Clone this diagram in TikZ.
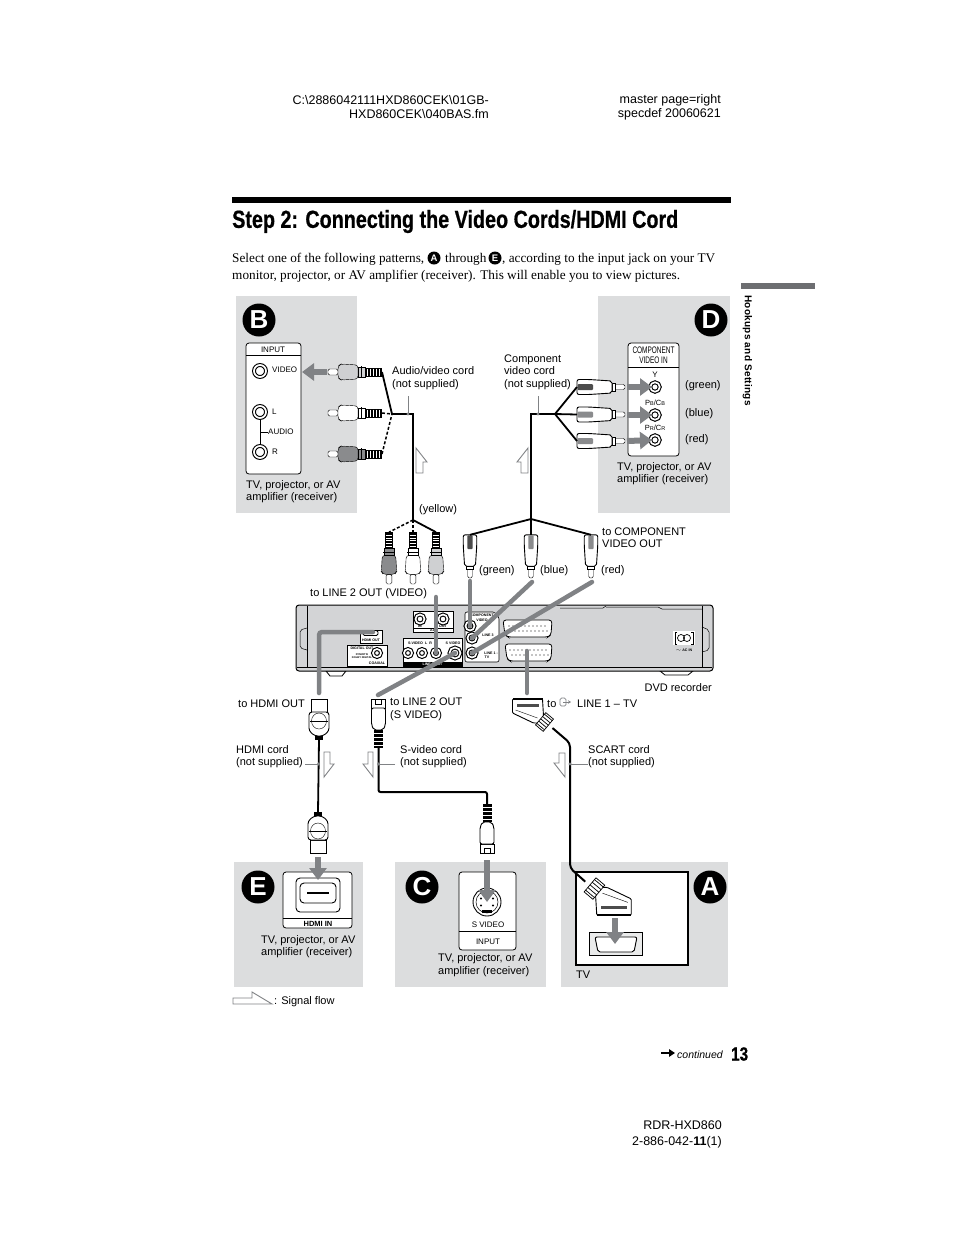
\documentclass[tikz,border=0pt]{standalone}
\usepackage{fontspec}
\setmainfont{Liberation Sans}
\newfontfamily\serifbody{Liberation Serif}
\newfontfamily\headfont[FakeStretch=0.8,FakeBold=0.7]{Liberation Sans Bold}
\usepackage{tikz}
\usetikzlibrary{
  arrows.meta,
  positioning,
  calc,
}
\definecolor{panelgray}{HTML}{DCDDDE}
\definecolor{flowgray}{HTML}{808285}
\definecolor{devgray}{HTML}{D3D4D6}
\definecolor{tabgray}{HTML}{6D6E71}
\definecolor{plugdark}{HTML}{8A8B8D}
\definecolor{pluglight}{HTML}{CFD0D2}
\tikzset{
  pics/rcaplug/.style={code={
    \draw[fill=white, rounded corners=1.5] (0,-3) -- (10,-3) -- (10,3) -- (0,3) -- cycle;
    \draw[fill=#1, rounded corners=3] (10,-6) -- (13,-8) -- (30,-7) -- (30,7) -- (13,8) -- (10,6) -- cycle;
    \draw[fill=#1] (30,-5) rectangle (37,5);
    \draw[line width=1] (33,-6) -- (33,6);
    \fill[black] (37,-4.5) rectangle (54,4.5);
    \foreach \hx in {39,42,...,51} {\draw[white, line width=.7] (\hx,-3.5) -- (\hx,3.5);}
    \coordinate (-tail) at (54,0);
  }},
  pics/compplug/.style={code={
    \draw[fill=white, rounded corners=1.5] (0,-2.5) -- (12,-2.5) -- (12,2.5) -- (0,2.5) -- cycle;
    \draw[fill=white] (10,-4) rectangle (13,4);
    \draw[fill=white, rounded corners=2, line width=.9] (13,-6) -- (36,-7.5) -- (48,-7.5) -- (48,7.5) -- (36,7.5) -- (13,6) -- cycle;
    \fill[#1, rounded corners=1] (32,-3) rectangle (47.5,3);
    \coordinate (-tail) at (48,0);
  }},
  pics/hdmiplug/.style={code={
    \draw[fill=white] (0,-8) rectangle (13,8);
    \draw[fill=white, rounded corners=3, line width=.9] (13,-10) -- (32,-10) -- (37,-4) -- (37,4) -- (32,10) -- (13,10) -- cycle;
    \draw[line width=.4] (22,0) ellipse (8 and 7.5);
    \draw[line width=.4] (22,-9) -- (22,9);
    \fill[black] (37,-4) rectangle (41,4);
    \coordinate (-tail) at (41,0);
  }},
  pics/svplug/.style={code={
    \draw[fill=white, line width=.9] (0,-7) rectangle (9,7);
    \draw[line width=.9] (0,-3) -- (5,-3) -- (5,3) -- (0,3);
    \draw[fill=white, line width=.9, rounded corners=2] (9,-7) -- (26,-7) -- (31,-4.5) -- (31,4.5) -- (26,7) -- (9,7) -- cycle;
    \fill[black] (31,-4.5) rectangle (49,4.5);
    \foreach \hx in {34,38,...,46} {\draw[white, line width=.8] (\hx,-4.5) -- (\hx,4.5);}
    \coordinate (-tail) at (49,0);
  }},
  pics/scartplug/.style={code={
    \draw[fill=white, line width=.9, rounded corners=1] (-15,0) -- (15,0) -- (16,17) -- (13,24) -- (6,24) -- (-15,14) -- cycle;
    \fill[black] (-15,-1) rectangle (15,1);
    \fill[black!70] (-11,5) rectangle (11,7.5);
    \draw[line width=.4] (-12,11) -- (10,19);
    \begin{scope}[shift={(17,23)}, rotate=50]
      \fill[white] (-8,-5) rectangle (8,5);
      \draw[line width=.7] (-8,-5) rectangle (8,5);
      \foreach \hy in {-6,-3,...,6} {\draw[line width=.7] (\hy,-5) -- (\hy,5);}
    \end{scope}
    \coordinate (-tail) at (25,29);
  }},
}

\begin{document}
\begin{tikzpicture}[
    x=1pt, y=-1pt,
    lbl/.style={font=\fontsize{11}{12.5}\selectfont, anchor=west, align=left, inner sep=0, yshift=-1.5pt},
    pagetxt/.style={font=\fontsize{12.5}{14}\selectfont, anchor=east, align=right, inner sep=0},
    small/.style={font=\fontsize{8}{9}\selectfont, inner sep=0},
    tiny/.style={font=\fontsize{3.6}{4}\selectfont\bfseries, inner sep=0},
    body/.style={font=\serifbody\fontsize{13.25}{15}\selectfont, anchor=base west, inner sep=0},
    panel/.style={fill=panelgray, draw=none},
    badge/.style={circle, fill=black, text=white, inner sep=0, minimum size=33pt, font=\fontsize{26}{26}\selectfont\bfseries},
    minibadge/.style={circle, fill=black, text=white, inner sep=0, minimum size=13pt, font=\fontsize{9.5}{9.5}\selectfont\bfseries},
    box/.style={draw, fill=white, rounded corners=3, line width=.8},
    jack/.style={circle, draw, double, double distance=1.7pt, line width=1.1pt, fill=white, inner sep=0, minimum size=#1},
    jack/.default=9pt,
    cord/.style={line width=1.8},
    dashcord/.style={line width=1.5, dashed, dash pattern=on 3pt off 2pt},
    tick/.style={flowgray, line width=1},
    flow/.style={flowgray, line width=6, -{Triangle[length=12pt,width=17pt]}},
    sigline/.style={flowgray, line width=4.5, line cap=round},
    hollow/.style={draw=flowgray, fill=white, line width=.9},
  ]
  \useasboundingbox (0,0) rectangle (954,1235);

  % Page header
  \node[pagetxt] (hdrfile) at (489,107) {C:\textbackslash 2886042111HXD860CEK\textbackslash 01GB-\\HXD860CEK\textbackslash 040BAS.fm};
  \node[pagetxt] (hdrspec) at (721,107) {master page=right\\specdef 20060621};

  % Title and intro
  \fill[black] (232,197) rectangle (731,203);
  \node[font=\headfont\fontsize{24.7}{25}\selectfont, anchor=west, inner sep=0] (title) at (232,221.5) {Step 2: Connecting the Video Cords/HDMI Cord};
  \node[body] (intro1) at (232,262.5) {Select one of the following patterns,};
  \node[minibadge] (minia) at (434,258) {A};
  \node[body] (intro2) at (445,262.5) {through};
  \node[minibadge] (minie) at (495,258) {E};
  \node[body] (intro3) at (502,262.5) {, according to the input jack on your TV};
  \node[body] (intro4) at (232,279.5) {monitor, projector, or AV amplifier (receiver). This will enable you to view pictures.};

  % Side tab
  \fill[tabgray] (741,283) rectangle (815,289);
  \node[font=\fontsize{10}{10}\selectfont\bfseries, rotate=-90, anchor=west, inner sep=0] (sidetab) at (747.5,295) {\addfontfeature{LetterSpace=3}Hookups and Settings};

  % Panels
  \fill[panel] (236,296) rectangle (357,513);
  \fill[panel] (598,296) rectangle (730,513);
  \fill[panel] (234,862) rectangle (363,987);
  \fill[panel] (395,862) rectangle (546,987);
  \fill[panel] (561,862) rectangle (728,987);
  \node[badge] (badgeb) at (259,320) {B};
  \node[badge] (badged) at (711,320) {D};
  \node[badge] (badgee) at (258,887) {E};
  \node[badge] (badgec) at (422,887) {C};
  \node[badge] (badgea) at (710,887) {A};

  % Input block, pattern B
  \draw[box] (246,343) rectangle (301,474);
  \draw[line width=.6] (246,355) -- (301,355);
  \node[small] (inb) at (273,350) {INPUT};
  \node[jack=12pt] (jvideo) at (260,371) {};
  \node[jack=12pt] (jl) at (260,412) {};
  \node[jack=12pt] (jr) at (260,452) {};
  \draw[line width=.8] (jl) -- (jr);
  \coordinate (audiotap) at (260,432);
  \coordinate (audioend) at (268,432);
  \draw[line width=.6] (audiotap) -- (audioend);
  \node[small, anchor=west] (lvideo) at (272,370) {VIDEO};
  \node[small, anchor=west] (ll) at (272,412) {L};
  \node[small, anchor=west] (laudio) at (268,432) {AUDIO};
  \node[small, anchor=west] (lr) at (272,452) {R};
  \node[lbl] (capb) at (246,490) {TV, projector, or AV\\amplifier (receiver)};

  % Input block, pattern D
  \draw[box] (628,343) rectangle (679,456);
  \draw[line width=.6] (628,367) -- (679,367);
  \node[small, align=center, font=\fontsize{9.5}{9.5}\selectfont] (ind) at (653.5,355) {\scalebox{.68}[1]{COMPONENT}\\\scalebox{.68}[1]{VIDEO IN}};
  \node[small] (ly) at (655,375) {Y};
  \node[jack=9.5pt] (jy) at (655,387) {};
  \node[small, font=\fontsize{7.5}{8}\selectfont] (lpb) at (655,403) {P{\fontsize{5.5}{6}\selectfont B}/C{\fontsize{5.5}{6}\selectfont B}};
  \node[jack=9.5pt] (jpb) at (655,415) {};
  \node[small, font=\fontsize{7.5}{8}\selectfont] (lpr) at (655,428) {P{\fontsize{5.5}{6}\selectfont R}/C{\fontsize{5.5}{6}\selectfont R}};
  \node[jack=9.5pt] (jpr) at (655,440) {};
  \node[lbl] (lgreend) at (685,384) {(green)};
  \node[lbl] (lblued) at (685,412) {(blue)};
  \node[lbl] (lredd) at (685,438) {(red)};
  \node[lbl] (capd) at (617,472) {TV, projector, or AV\\amplifier (receiver)};

  % DVD recorder
  \fill[white, draw=black, line width=.8] (326,671) -- (330,676) -- (342,676) -- (346,671) -- cycle;
  \fill[white, draw=black, line width=.8] (660,671) -- (665,675) -- (688,675) -- (693,671) -- cycle;
  \draw[fill=devgray, line width=1, rounded corners=3] (296,605) -- (713,605) -- (713,671) -- (296,671) -- cycle;
  \draw[line width=.8] (297,667) -- (712,667);
  \draw[line width=.5] (560,608) -- (603,608) -- (606,606);
  \draw[line width=.5] (606,607) -- (658,607) -- (662,609) -- (702,609);
  \draw[line width=.5, rounded corners=2] (307,606) -- (307,667);
  \draw[line width=.5, rounded corners=2] (307,628) -- (300,630) -- (300,648) -- (307,650);
  \draw[line width=.5, rounded corners=2] (702,606) -- (702,667);
  \draw[line width=.5, rounded corners=2] (702,627) -- (709,630) -- (709,650) -- (702,652);

  % Rear panel, left part
  \draw[fill=white, line width=.6] (360,630) rectangle (382,643);
  \draw[line width=.9, rounded corners=1.5] (363,630.5) rectangle (378,635.5);
  \node[tiny] (lhdmi) at (371,640) {HDMI OUT};
  \draw[fill=white, line width=.6] (347,645) rectangle (387,666);
  \node[tiny] (ldigital) at (362,648) {DIGITAL OUT};
  \node[tiny, font=\fontsize{2.6}{3}\selectfont\bfseries, align=center] (lpcm) at (362,656) {PCM/DTS/\\DOLBY DIGITAL};
  \node[jack=8pt] (jcoax) at (377,653) {};
  \node[tiny] (lcoax) at (377,663) {COAXIAL};
  \draw[fill=white, line width=.6] (413,611) rectangle (453,632);
  \node[jack=9pt] (jauxin) at (420,619) {};
  \node[jack=9pt] (jauxout) at (443,619) {};
  \draw[line width=.6] (413,628) -- (453,628);
  \node[tiny] (lin) at (420,626) {IN};
  \node[tiny] (lout) at (443,626) {OUT};
  \node[tiny] (laux) at (434,630.3) {AUX};

  % Rear panel, LINE 2 OUT
  \draw[fill=white, line width=.6] (403,638) rectangle (462,666);
  \node[tiny] (ls) at (420,643) {S-VIDEO\,\, L \,\,R};
  \node[tiny] (lsv) at (453,643) {S VIDEO};
  \node[jack=8pt] (jl2l) at (408,653) {};
  \node[jack=8pt] (jl2r) at (422,653) {};
  \node[jack=8pt] (jl2v) at (436,653) {};
  \node[jack=11pt] (jl2s) at (455,653) {};
  \fill[black] (403,662) rectangle (462,666);
  \node[tiny, text=white] (ll2) at (432.5,664) {LINE 2 OUT};

  % Rear panel, component and SCART
  \draw[fill=white, line width=.6, rounded corners=2] (465,612) -- (495,612) -- (499,617) -- (499,662) -- (465,662) -- cycle;
  \node[tiny] (lcomp) at (482,615.5) {COMPONENT};
  \node[tiny] (lcompv) at (482,620) {VIDEO};
  \node[jack=9pt] (jcy) at (470,626) {};
  \node[jack=9pt] (jcb) at (472,638) {};
  \node[jack=9pt] (jcr) at (472,653) {};
  \node[tiny] (llinetop) at (488,635) {LINE 3};
  \node[tiny] (llinetv) at (491,653) {LINE 1 -};
  \node[tiny] (llinetvb) at (487,657.5) {TV};
  \draw[fill=white, line width=.8, rounded corners=3] (503,620) -- (552,620) -- (551,635) -- (548,637) -- (508,637) -- (505,635) -- cycle;
  \draw[fill=white, line width=.8, rounded corners=3] (505,644) -- (552,644) -- (551,659) -- (548,661) -- (510,661) -- (507,659) -- cycle;
  \foreach \px in {0,...,9} {
    \fill (509+\px*4,626) circle (.6);
    \fill (511+\px*4,631) circle (.6);
    \fill (510+\px*4,650) circle (.6);
    \fill (512+\px*4,655) circle (.6);
  }

  % AC IN
  \fill[white] (673,631) rectangle (695,645);
  \draw[line width=.9] (677,632) -- (675,632) -- (675,644) -- (677,644);
  \draw[line width=.9] (691,632) -- (693,632) -- (693,644) -- (691,644);
  \draw[line width=.7] (681,638) circle (3.5);
  \draw[line width=.7] (687,638) circle (3.5);
  \node[tiny] (lacin) at (684,650) {$\sim$ AC IN};
  \node[lbl, anchor=east] (ldvd) at (712,686) {DVD recorder};

  % Cords, audio/video
  \coordinate (avtop) at (392,414);
  \coordinate (avbend) at (413,414);
  \coordinate (avlow) at (413,520);
  \pic (plugbv) at (328,372) {rcaplug=pluglight};
  \pic (plugbl) at (328,413) {rcaplug=white};
  \pic (plugbr) at (328,454) {rcaplug=plugdark};
  \draw[cord] (plugbv-tail) -- (avtop);
  \draw[dashcord] (plugbl-tail) -- (avtop);
  \draw[dashcord] (plugbr-tail) -- (avtop);
  \draw[cord] (avtop) -- (avbend) -- (avlow);
  \pic[rotate=90, scale=.96] (plugll) at (389,584) {rcaplug=plugdark};
  \pic[rotate=90, scale=.96] (pluglm) at (413,584) {rcaplug=white};
  \pic[rotate=90, scale=.96] (pluglr) at (436,584) {rcaplug=pluglight};
  \draw[dashcord] (avlow) -- (plugll-tail);
  \draw[dashcord] (avlow) -- (pluglm-tail);
  \draw[cord] (avlow) -- (pluglr-tail);
  \coordinate (avtick) at (408,396);
  \coordinate (avdot) at (408,414);
  \draw[tick] (avtick) -- (avdot);
  \fill[flowgray] (avdot) circle (1.7);
  \node[lbl] (lavcord) at (392,376.5) {Audio/video cord\\(not supplied)};
  \node[lbl] (lyellow) at (419,508) {(yellow)};
  \node[lbl] (lline2v) at (310,592) {to LINE 2 OUT (VIDEO)};
  \draw[hollow] (416,448) -- (427,462) -- (423,462) -- (423,473) -- (416,473) -- cycle;

  % Cords, component
  \coordinate (cmtop) at (555,414);
  \coordinate (cmbend) at (531,414);
  \coordinate (cmlow) at (531,519);
  \pic[rotate=180] (plugdy) at (625,387) {compplug=black!70};
  \pic[rotate=180] (plugdb) at (625,414.5) {compplug=plugdark};
  \pic[rotate=180] (plugdr) at (625,441) {compplug=plugdark};
  \draw[cord] (plugdy-tail) -- (cmtop);
  \draw[cord] (plugdb-tail) -- (cmtop);
  \draw[cord] (plugdr-tail) -- (cmtop);
  \draw[cord] (cmtop) -- (cmbend) -- (cmlow);
  \pic[rotate=90, scale=.9] (plugcg) at (470,578) {compplug=black!70};
  \pic[rotate=90, scale=.9] (plugcb) at (531,578) {compplug=plugdark};
  \pic[rotate=90, scale=.9] (plugcr) at (591,578) {compplug=plugdark};
  \draw[cord] (cmlow) -- (plugcg-tail);
  \draw[cord] (cmlow) -- (plugcb-tail);
  \draw[cord] (cmlow) -- (plugcr-tail);
  \coordinate (cmtick) at (538,396);
  \coordinate (cmdot) at (538,414);
  \draw[tick] (cmtick) -- (cmdot);
  \fill[flowgray] (cmdot) circle (1.7);
  \node[lbl] (lcmcord) at (504,370.5) {Component\\video cord\\(not supplied)};
  \node[lbl] (ltocomp) at (602,536) {to COMPONENT\\VIDEO OUT};
  \node[lbl] (lgreen) at (479,569) {(green)};
  \node[lbl] (lblue) at (540,569) {(blue)};
  \node[lbl] (lred) at (601,569) {(red)};
  \draw[hollow] (528,448) -- (528,473) -- (521,473) -- (521,462) -- (517,462) -- cycle;

  % Signal lines to the recorder
  \coordinate (slv) at (436,597);
  \coordinate (slg) at (470,581);
  \coordinate (slb) at (532,582);
  \coordinate (slr) at (592,582);
  \coordinate (sls) at (378,695);
  \coordinate (slh) at (319,693);
  \coordinate (slhb) at (319,632);
  \coordinate (slhe) at (373,632);
  \coordinate (slsc) at (527,693);
  \coordinate (slsd) at (527,651);
  \draw[sigline] (slv) -- (jl2v.center);
  \draw[sigline] (slg) -- (jcy.center);
  \draw[sigline] (slb) -- (jcb.center);
  \draw[sigline] (slr) -- (jcr.center);
  \draw[sigline] (sls) -- (jl2s.center);
  \draw[sigline, rounded corners=3] (slh) -- (slhb) -- (slhe);
  \draw[sigline] (slsc) -- (slsd);

  % Fat arrows
  \coordinate (fvs) at (327,372);
  \coordinate (fve) at (302,372);
  \draw[flow] (fvs) -- (fve);
  \coordinate (fys) at (627,387);
  \coordinate (fbs) at (627,415);
  \coordinate (frs) at (627,441);
  \draw[flow, shorten >=3pt] (fys) -- (jy.center);
  \draw[flow, shorten >=3pt] (fbs) -- (jpb.center);
  \draw[flow, shorten >=3pt] (frs) -- (jpr.center);

  % HDMI cord, pattern E
  \pic[rotate=-90] (plugha) at (319,699) {hdmiplug};
  \pic[rotate=90] (plughb) at (318,853) {hdmiplug};
  \draw[cord] (plugha-tail) -- (plughb-tail);
  \draw[box] (283,872) rectangle (352,928);
  \draw[line width=.6] (283,918) -- (352,918);
  \draw[line width=.9, rounded corners=4] (296,878) rectangle (340,912);
  \draw[line width=.9, rounded corners=4] (300,883) rectangle (336,903);
  \coordinate (hdmibarl) at (307,893);
  \coordinate (hdmibarr) at (329,893);
  \draw[line width=1.6] (hdmibarl) -- (hdmibarr);
  \node[small, font=\fontsize{7.5}{8}\selectfont\bfseries] (lhdmiin) at (318,923.5) {HDMI IN};
  \coordinate (fhs) at (318,857);
  \coordinate (fhe) at (318,880);
  \draw[flow] (fhs) -- (fhe);
  \coordinate (htick) at (305,764);
  \coordinate (hdot) at (318.5,764);
  \draw[tick] (htick) -- (hdot);
  \fill[flowgray] (hdot) circle (1.7);
  \node[lbl] (ltohdmi) at (238,702) {to HDMI OUT};
  \node[lbl] (lhdmicord) at (236,755) {HDMI cord\\(not supplied)};
  \node[lbl] (cape) at (261,945) {TV, projector, or AV\\amplifier (receiver)};
  \draw[hollow] (324,752) -- (330,752) -- (330,764) -- (334,764) -- (324,777) -- cycle;

  % S-video cord, pattern C
  \pic[rotate=-90] (plugsa) at (378.5,699) {svplug};
  \pic[rotate=90] (plugsb) at (487,853) {svplug};
  \coordinate (svb1) at (378.5,792);
  \coordinate (svb2) at (487,792);
  \draw[cord, line width=2, rounded corners=2] (plugsa-tail) -- (svb1) -- (svb2) -- (plugsb-tail);
  \draw[box] (459,872) rectangle (516,950);
  \draw[line width=.6] (459,931) -- (516,931);
  \node[circle, draw, line width=.9, fill=white, minimum size=28pt, inner sep=0] (jsv) at (487,902) {};
  \draw[line width=.5] (487,902) circle (11);
  \foreach \pa in {210,330,150,30} {\fill ($(jsv.center)+(\pa:7)$) circle (1.1);}
  \fill (482,910) rectangle (492,913);
  \node[small] (lsvid) at (488,925) {S VIDEO};
  \node[small] (inc) at (488,942) {INPUT};
  \coordinate (fss) at (487,860);
  \coordinate (fse) at (487,902);
  \draw[flow] (fss) -- (fse);
  \coordinate (stick) at (395,764);
  \coordinate (sdot) at (378.5,764);
  \draw[tick] (stick) -- (sdot);
  \fill[flowgray] (sdot) circle (1.7);
  \node[lbl] (ltosv) at (390,708) {to LINE 2 OUT\\(S VIDEO)};
  \node[lbl] (lsvcord) at (400,755) {S-video cord\\(not supplied)};
  \node[lbl] (capc) at (438,963.5) {TV, projector, or AV\\amplifier (receiver)};
  \draw[hollow] (373,752) -- (368,752) -- (368,764) -- (363,764) -- (373,777) -- cycle;

  % SCART cord, pattern A
  \draw[fill=white, line width=1.4] (576,872) rectangle (688,965);
  \node[lbl] (captv) at (576,973) {TV};
  \draw[fill=panelgray!60, line width=.5] (589,932) rectangle (642,955);
  \draw[fill=white, line width=.9, rounded corners=2] (595,937) -- (637,937) -- (634,952) -- (598,952) -- cycle;
  \pic (plugsc) at (527.5,699) {scartplug};
  \pic[rotate=180, scale=1.15] (plugtv) at (614,915) {scartplug};
  \coordinate (scb1) at (570,743);
  \coordinate (scb2) at (570,868);
  \draw[cord, line width=2, rounded corners=4] (plugsc-tail) -- (scb1) -- (scb2) -- (plugtv-tail);
  \coordinate (fts) at (615,918);
  \coordinate (fte) at (615,944);
  \draw[flow] (fts) -- (fte);
  \coordinate (ctick) at (588,764);
  \coordinate (cdot) at (570,764);
  \draw[tick] (ctick) -- (cdot);
  \fill[flowgray] (cdot) circle (1.7);
  \node[lbl] (ltoscart) at (547,702) {to};
  \draw[flowgray, line width=.7, rounded corners=1.5] (560,698) rectangle (566,706);
  \coordinate (iconl) at (563,702);
  \coordinate (iconr) at (571,702);
  \draw[flowgray, line width=.7, -{Stealth[length=3pt,width=3.5pt]}] (iconl) -- (iconr);
  \node[lbl] (lline1) at (577,702) {LINE 1 -- TV};
  \node[lbl] (lscart) at (588,755) {SCART cord\\(not supplied)};
  \draw[hollow] (565,753) -- (559,753) -- (559,763) -- (554,763) -- (565,777) -- cycle;

  % Legend
  \draw[hollow] (233,998) -- (252,998) -- (252,992) -- (272,1004) -- (233,1004) -- cycle;
  \node[lbl] (llegend) at (274,1000) {: Signal flow};

  % Page footer
  \coordinate (contl) at (661,1053);
  \coordinate (contr) at (675,1053);
  \draw[line width=2, -{Triangle[length=6pt,width=7.5pt]}] (contl) -- (contr);
  \node[lbl, font=\fontsize{10.5}{12}\selectfont\itshape] (lcont) at (677,1053) {continued};
  \node[font=\headfont\fontsize{19}{19}\selectfont, anchor=west, inner sep=0] (pagenum) at (731,1054) {13};
  \node[pagetxt] (lmodel) at (722,1125) {RDR-HXD860};
  \node[pagetxt] (lpart) at (722,1142) {2-886-042-{\bfseries 11}(1)};
\end{tikzpicture}
\end{document}
